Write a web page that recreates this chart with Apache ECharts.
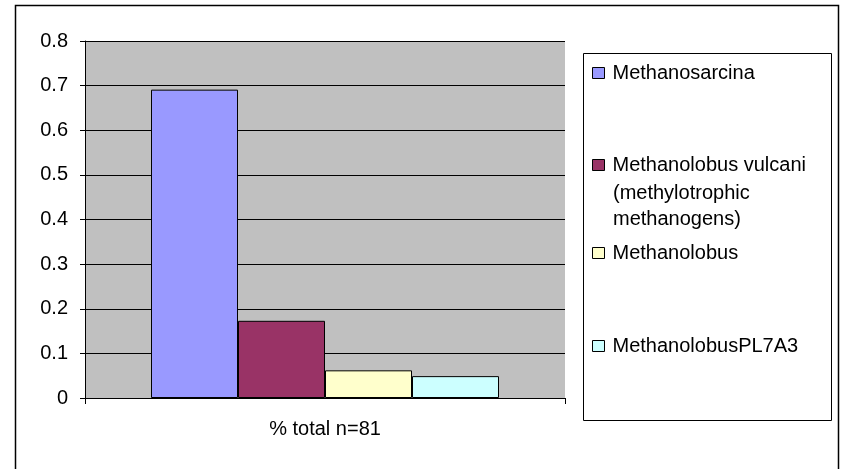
<!DOCTYPE html>
<html>
<head>
<meta charset="utf-8">
<script src="https://cdn.jsdelivr.net/npm/echarts@6/dist/echarts.min.js"></script>
<style>
  html, body { margin: 0; padding: 0; background: #fff; }
  #chart { width: 846px; height: 469px; }
</style>
</head>
<body>
<div id="chart"></div>
<script>
var chart = echarts.init(document.getElementById("chart"));

var categories = ["% total n=81"];
var seriesNames = [
  "Methanosarcina",
  "Methanolobus vulcani",
  "Methanolobus",
  "MethanolobusPL7A3",
];
var seriesValues = [0.691, 0.173, 0.062, 0.049];
var seriesColors = ["#9999ff", "#993366", "#ffffcc", "#ccffff"];
var legendTops = [63, 155, 243, 336];

var font = "Liberation Sans, Arial, sans-serif";
var fs = 20;

var series = [];
for (var i = 0; i < seriesNames.length; i++) {
  series.push({
    name: seriesNames[i],
    type: "bar",
    data: [seriesValues[i]],
    barGap: "0%",
    barCategoryGap: "27.5%",
    itemStyle: {
      color: seriesColors[i],
      borderColor: "#000",
      borderWidth: 1,
    },
  });
}

var legends = [];
for (var j = 0; j < seriesNames.length; j++) {
  legends.push({
    data: [seriesNames[j]],
    left: 592,
    top: legendTops[j],
    orient: "vertical",
    icon: "rect",
    itemWidth: 12,
    itemHeight: 11,
    itemGap: 0,
    padding: 0,
    selectedMode: false,
    textStyle: { color: "#000", fontSize: fs, fontFamily: font, padding: [0, 0, 0, 3] },
    itemStyle: { borderColor: "#000", borderWidth: 1 },
  });
}

var option = {
  animation: false,
  backgroundColor: "#fff",
  grid: {
    left: 85,
    right: 281,
    top: 41,
    bottom: 71,
    show: true,
    backgroundColor: "#c0c0c0",
    borderWidth: 0,
  },
  legend: legends,
  xAxis: {
    type: "category",
    data: categories,
    axisLine: { lineStyle: { color: "#000" } },
    axisTick: { show: true, length: 6, lineStyle: { color: "#000" } },
    axisLabel: { color: "#000", fontSize: fs, fontFamily: font, margin: 21 },
  },
  yAxis: {
    type: "value",
    min: 0,
    max: 0.8,
    interval: 0.1,
    axisLine: { show: true, lineStyle: { color: "#000" } },
    axisTick: { show: true, length: 5, lineStyle: { color: "#000" } },
    axisLabel: { color: "#000", fontSize: fs, fontFamily: font, margin: 17 },
    splitLine: { lineStyle: { color: "#000" } },
  },
  graphic: [
    {
      type: "rect",
      shape: { x: 15.5, y: 5.5, width: 823, height: 480 },
      style: { fill: "none", stroke: "#000", lineWidth: 1.5 },
      silent: true,
    },
    {
      type: "rect",
      shape: { x: 583.5, y: 53.5, width: 248, height: 367 },
      style: { fill: "none", stroke: "#000", lineWidth: 1 },
      silent: true,
    },
    {
      type: "text",
      left: 613,
      top: 180,
      style: {
        text: "(methylotrophic\nmethanogens)",
        fill: "#000",
        fontSize: fs,
        fontFamily: font,
        lineHeight: 26,
      },
      silent: true,
    },
  ],
  series: series,
};

chart.setOption(option);
</script>
</body>
</html>
